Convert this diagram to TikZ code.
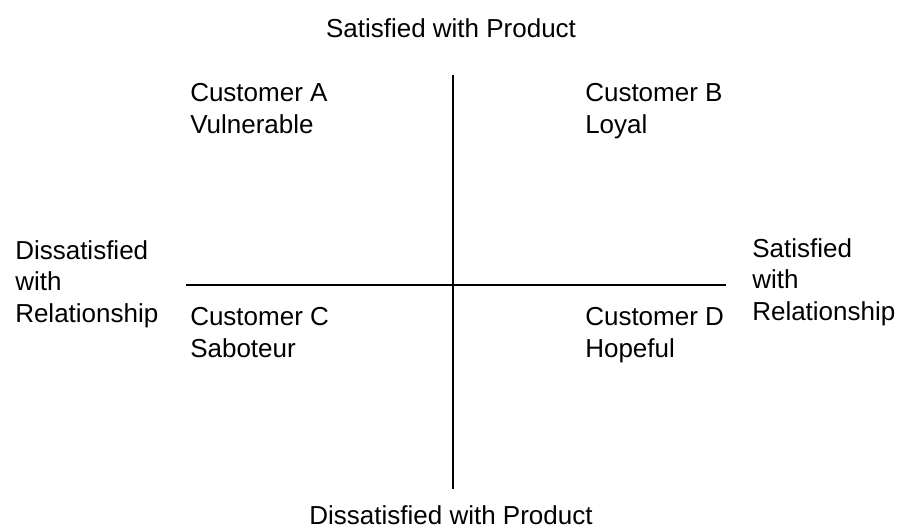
\documentclass[tikz,border=0pt]{standalone}
\usepackage{fontspec}
\setmainfont{Liberation Sans}

\begin{document}
\begin{tikzpicture}[x=0.75pt,y=-0.75pt]

        \useasboundingbox (0,0) rectangle (898,531);

        % ends of the two axes
        \coordinate (top)    at (453,75);
        \coordinate (bottom) at (453,489);
        \coordinate (left)   at (186,285);
        \coordinate (right)  at (726,285);

        \draw[line width=1.9pt] (top) -- (bottom);
        \draw[line width=1.9pt] (left) -- (right);

        % base anchor sits on the last line of each label
        \begin{scope}[every node/.style={inner sep=0pt, align=left, anchor=base west,
            font=\fontsize{19.5}{23.5}\selectfont}]
          \node (a)  at (190,133) {Customer A\\Vulnerable};
          \node (b)  at (585,133) {Customer B\\Loyal};
          \node (c)  at (190,357) {Customer C\\Saboteur};
          \node (d)  at (585,357) {Customer D\\Hopeful};
          \node (dr) at (15,322)  {Dissatisfied\\with\\Relationship};
          \node (sr) at (752,320) {Satisfied\\with\\Relationship};
        \end{scope}

        \begin{scope}[every node/.style={inner sep=0pt, anchor=base,
            font=\fontsize{19.5}{23.5}\selectfont}]
          \node (sp) at (451,38)  {Satisfied with Product};
          \node (dp) at (451,524) {Dissatisfied with Product};
        \end{scope}

      \end{tikzpicture}
\end{document}
